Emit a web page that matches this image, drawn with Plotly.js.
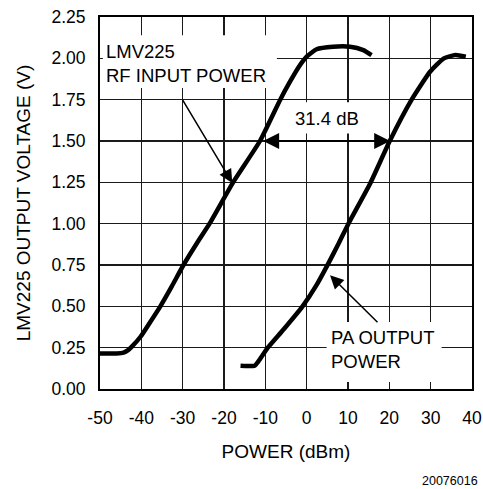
<!DOCTYPE html>
<html>
<head>
<meta charset="utf-8">
<script src="https://cdn.plot.ly/plotly-3.0.1.min.js"></script>
<style>html,body{margin:0;padding:0;background:#fff;}#chart{width:483px;height:489px;}</style>
</head>
<body>
<div id="chart"></div>
<script>
// RF input power curve (LMV225)
const rfPower = [-50, -46, -44.3, -43.2, -42.3, -40.2, -37.8, -35.4, -32.6, -29.8, -26.6, -23.5, -17.8, -11.3, -6.4, -4.0, -2.0, 0, 2.4, 6.4, 10.5, 13.7, 15.7];
const rfVolts = [0.215, 0.215, 0.22, 0.235, 0.256, 0.316, 0.407, 0.5, 0.622, 0.75, 0.88, 1.0, 1.25, 1.5, 1.75, 1.86, 1.945, 2.01, 2.055, 2.07, 2.07, 2.05, 2.02];
// PA output power curve
const paPower = [-16, -12.6, -11.6, -9.4, -5.6, -1.0, 2.3, 5.0, 7.7, 10.1, 15.3, 20.1, 25.4, 29.9, 33.2, 36.0, 38.5];
const paVolts = [0.141, 0.141, 0.17, 0.25, 0.36, 0.5, 0.625, 0.748, 0.878, 1.0, 1.24, 1.5, 1.75, 1.92, 2.0, 2.02, 2.01];
// axis ticks
const xTicks = [-50, -40, -30, -20, -10, 0, 10, 20, 30, 40];
const yTicks = [0, 0.25, 0.5, 0.75, 1.0, 1.25, 1.5, 1.75, 2.0, 2.25];
const yTickText = ["0.00", "0.25", "0.50", "0.75", "1.00", "1.25", "1.50", "1.75", "2.00", "2.25"];
// 31.4 dB span
const spanStart = -10.9, spanEnd = 20.2, spanLevel = 1.5;

const FONT = "Liberation Sans, Arial, Helvetica, sans-serif";
const lineStyle = {color: "#000", width: 4.5, shape: "spline", smoothing: 0.5};

const traces = [
  {x: rfPower, y: rfVolts, mode: "lines", line: lineStyle, hoverinfo: "skip"},
  {x: paPower, y: paVolts, mode: "lines", line: lineStyle, hoverinfo: "skip"}
];

const layout = {
  width: 483, height: 489,
  margin: {l: 100, r: 11, t: 17, b: 100},
  paper_bgcolor: "#fff", plot_bgcolor: "#fff",
  showlegend: false,
  font: {family: FONT, size: 17.5, color: "#000"},
  xaxis: {
    range: [-50, 40], tickvals: xTicks, ticktext: xTicks.map(String),
    showgrid: true, gridcolor: "#1a1a1a", gridwidth: 1.5,
    showline: true, linecolor: "#000", linewidth: 2, mirror: true,
    ticks: "outside", ticklen: 12, tickcolor: "rgba(0,0,0,0)",
    tickfont: {family: FONT, size: 17.5},
    zeroline: false, fixedrange: true,
    title: {text: "POWER (dBm)", font: {family: FONT, size: 19}, standoff: 18}
  },
  yaxis: {
    range: [0, 2.25], tickvals: yTicks, ticktext: yTickText,
    showgrid: true, gridcolor: "#1a1a1a", gridwidth: 1.5,
    showline: true, linecolor: "#000", linewidth: 2, mirror: true,
    ticks: "outside", ticklen: 9, tickcolor: "rgba(0,0,0,0)",
    tickfont: {family: FONT, size: 17.5},
    zeroline: false, fixedrange: true,
    title: {text: "LMV225 OUTPUT VOLTAGE (V)", font: {family: FONT, size: 19}, standoff: 16}
  },
  shapes: [
    {type: "rect", xref: "x", yref: "y", x0: -49.3, x1: -7.2, y0: 1.82, y1: 2.14, fillcolor: "#fff", line: {width: 0}, layer: "between"},
    {type: "rect", xref: "x", yref: "y", x0: -3.5, x1: 13.5, y0: 1.546, y1: 1.735, fillcolor: "#fff", line: {width: 0}, layer: "between"},
    {type: "rect", xref: "x", yref: "y", x0: 4.83, x1: 32.65, y0: 0.042, y1: 0.405, fillcolor: "#fff", line: {width: 0}, layer: "between"}
  ],
  annotations: [
    {xref: "x", yref: "y", x: -49.0, y: 1.969, xanchor: "left", yanchor: "middle", align: "left",
     text: "LMV225<br>RF INPUT POWER", showarrow: false, font: {family: FONT, size: 18.5}},
    {xref: "x", yref: "y", x: 4.85, y: 1.636, text: "31.4 dB", showarrow: false, font: {family: FONT, size: 18.5}},
    {xref: "x", yref: "y", x: 5.5, y: 0.24, xanchor: "left", yanchor: "middle", align: "left",
     text: "PA OUTPUT<br>POWER", showarrow: false, font: {family: FONT, size: 18.5}},
    {xref: "x", yref: "y", axref: "x", ayref: "y", x: -18.0, y: 1.246, ax: -30.2, ay: 1.757,
     text: "", showarrow: true, arrowhead: 2, arrowsize: 1.8, arrowwidth: 1.5, arrowcolor: "#000"},
    {xref: "x", yref: "y", axref: "x", ayref: "y", x: 5.65, y: 0.688, ax: 17.5, ay: 0.395,
     text: "", showarrow: true, arrowhead: 2, arrowsize: 1.8, arrowwidth: 1.5, arrowcolor: "#000"},
    {xref: "x", yref: "y", axref: "x", ayref: "y", x: spanEnd, y: spanLevel, ax: spanStart, ay: spanLevel,
     text: "", showarrow: true, arrowhead: 2, startarrowhead: 2, arrowside: "end+start",
     arrowsize: 1.6, startarrowsize: 1.6, arrowwidth: 2, arrowcolor: "#000"},
    {xref: "paper", yref: "paper", x: 1.022, y: -0.248, xanchor: "right", yanchor: "middle",
     text: "20076016", showarrow: false, font: {family: FONT, size: 12.5}}
  ]
};

Plotly.newPlot("chart", traces, layout, {displayModeBar: false, staticPlot: true});
</script>
</body>
</html>
